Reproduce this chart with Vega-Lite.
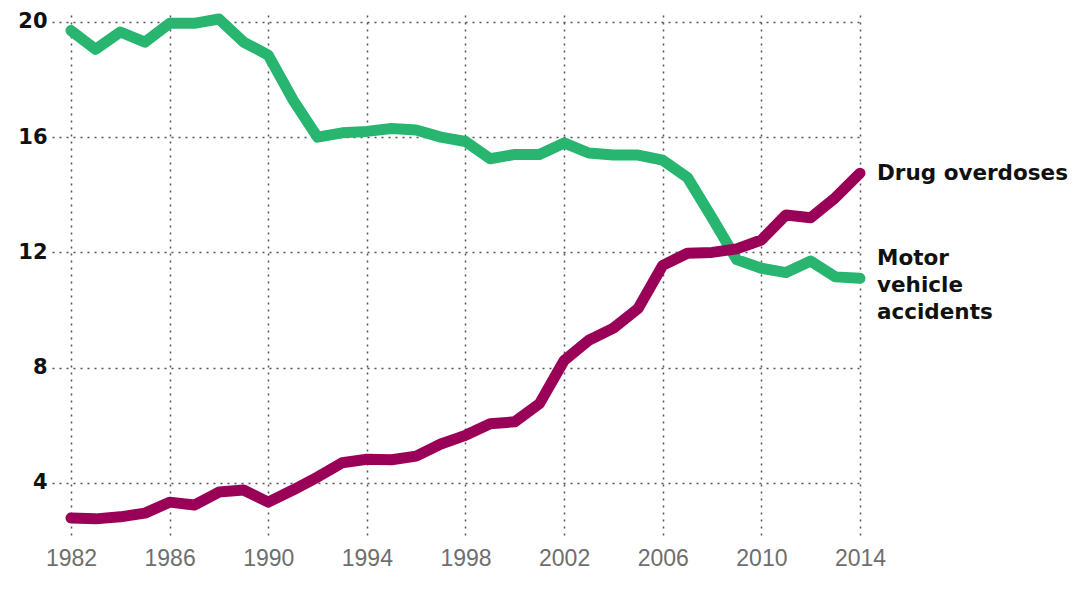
{
  "$schema": "https://vega.github.io/schema/vega-lite/v6.json",
  "autosize": "none",
  "width": 808,
  "height": 520,
  "padding": {"left": 52, "top": 15, "right": 216, "bottom": 70},
  "background": "white",
  "config": {"view": {"stroke": null}},
  "data": {"values": [
    {"year": 1982, "series": "Motor vehicle accidents", "value": 19.7},
    {"year": 1983, "series": "Motor vehicle accidents", "value": 19.05},
    {"year": 1984, "series": "Motor vehicle accidents", "value": 19.65},
    {"year": 1985, "series": "Motor vehicle accidents", "value": 19.3},
    {"year": 1986, "series": "Motor vehicle accidents", "value": 19.95},
    {"year": 1987, "series": "Motor vehicle accidents", "value": 19.95},
    {"year": 1988, "series": "Motor vehicle accidents", "value": 20.1},
    {"year": 1989, "series": "Motor vehicle accidents", "value": 19.3},
    {"year": 1990, "series": "Motor vehicle accidents", "value": 18.85},
    {"year": 1991, "series": "Motor vehicle accidents", "value": 17.3},
    {"year": 1992, "series": "Motor vehicle accidents", "value": 16.0},
    {"year": 1993, "series": "Motor vehicle accidents", "value": 16.15},
    {"year": 1994, "series": "Motor vehicle accidents", "value": 16.2},
    {"year": 1995, "series": "Motor vehicle accidents", "value": 16.3},
    {"year": 1996, "series": "Motor vehicle accidents", "value": 16.25},
    {"year": 1997, "series": "Motor vehicle accidents", "value": 16.0},
    {"year": 1998, "series": "Motor vehicle accidents", "value": 15.85},
    {"year": 1999, "series": "Motor vehicle accidents", "value": 15.25},
    {"year": 2000, "series": "Motor vehicle accidents", "value": 15.4},
    {"year": 2001, "series": "Motor vehicle accidents", "value": 15.4},
    {"year": 2002, "series": "Motor vehicle accidents", "value": 15.8},
    {"year": 2003, "series": "Motor vehicle accidents", "value": 15.45},
    {"year": 2004, "series": "Motor vehicle accidents", "value": 15.38},
    {"year": 2005, "series": "Motor vehicle accidents", "value": 15.38},
    {"year": 2006, "series": "Motor vehicle accidents", "value": 15.2},
    {"year": 2007, "series": "Motor vehicle accidents", "value": 14.6},
    {"year": 2008, "series": "Motor vehicle accidents", "value": 13.2},
    {"year": 2009, "series": "Motor vehicle accidents", "value": 11.75},
    {"year": 2010, "series": "Motor vehicle accidents", "value": 11.45},
    {"year": 2011, "series": "Motor vehicle accidents", "value": 11.3},
    {"year": 2012, "series": "Motor vehicle accidents", "value": 11.7},
    {"year": 2013, "series": "Motor vehicle accidents", "value": 11.15},
    {"year": 2014, "series": "Motor vehicle accidents", "value": 11.1},
    {"year": 1982, "series": "Drug overdoses", "value": 2.78},
    {"year": 1983, "series": "Drug overdoses", "value": 2.75},
    {"year": 1984, "series": "Drug overdoses", "value": 2.82},
    {"year": 1985, "series": "Drug overdoses", "value": 2.95},
    {"year": 1986, "series": "Drug overdoses", "value": 3.33},
    {"year": 1987, "series": "Drug overdoses", "value": 3.23},
    {"year": 1988, "series": "Drug overdoses", "value": 3.68},
    {"year": 1989, "series": "Drug overdoses", "value": 3.75},
    {"year": 1990, "series": "Drug overdoses", "value": 3.33},
    {"year": 1991, "series": "Drug overdoses", "value": 3.75},
    {"year": 1992, "series": "Drug overdoses", "value": 4.2},
    {"year": 1993, "series": "Drug overdoses", "value": 4.7},
    {"year": 1994, "series": "Drug overdoses", "value": 4.82},
    {"year": 1995, "series": "Drug overdoses", "value": 4.8},
    {"year": 1996, "series": "Drug overdoses", "value": 4.93},
    {"year": 1997, "series": "Drug overdoses", "value": 5.35},
    {"year": 1998, "series": "Drug overdoses", "value": 5.65},
    {"year": 1999, "series": "Drug overdoses", "value": 6.05},
    {"year": 2000, "series": "Drug overdoses", "value": 6.12},
    {"year": 2001, "series": "Drug overdoses", "value": 6.75},
    {"year": 2002, "series": "Drug overdoses", "value": 8.25},
    {"year": 2003, "series": "Drug overdoses", "value": 8.95},
    {"year": 2004, "series": "Drug overdoses", "value": 9.37},
    {"year": 2005, "series": "Drug overdoses", "value": 10.05},
    {"year": 2006, "series": "Drug overdoses", "value": 11.55},
    {"year": 2007, "series": "Drug overdoses", "value": 11.97},
    {"year": 2008, "series": "Drug overdoses", "value": 12.0},
    {"year": 2009, "series": "Drug overdoses", "value": 12.12},
    {"year": 2010, "series": "Drug overdoses", "value": 12.43},
    {"year": 2011, "series": "Drug overdoses", "value": 13.3},
    {"year": 2012, "series": "Drug overdoses", "value": 13.2},
    {"year": 2013, "series": "Drug overdoses", "value": 13.9},
    {"year": 2014, "series": "Drug overdoses", "value": 14.75}
  ]},
  "encoding": {
    "x": {
      "field": "year", "type": "quantitative",
      "scale": {"domain": [1981.23, 2014], "nice": false, "zero": false},
      "axis": {
        "title": null, "values": [1982, 1986, 1990, 1994, 1998, 2002, 2006, 2010, 2014],
        "format": "d", "domain": false, "ticks": false,
        "labelFont": "Liberation Sans", "labelFontSize": 23, "labelColor": "#6e6e6e",
        "labelPadding": 12, "labelFlush": false,
        "grid": true, "gridColor": "#555555", "gridDash": [2, 5], "gridWidth": 1.5
      }
    },
    "y": {
      "field": "value", "type": "quantitative",
      "scale": {"domain": [2.19, 20.24], "nice": false, "zero": false},
      "axis": {
        "title": null, "values": [4, 8, 12, 16, 20], "format": "d",
        "domain": false, "ticks": false,
        "labelFont": "DejaVu Sans", "labelFontWeight": "bold", "labelFontSize": 21,
        "labelColor": "#111111", "labelPadding": 5, "labelFlush": false,
        "grid": true, "gridColor": "#555555", "gridDash": [2, 5], "gridWidth": 1.5
      }
    },
    "color": {
      "field": "series", "type": "nominal",
      "scale": {"domain": ["Motor vehicle accidents", "Drug overdoses"], "range": ["#27b56f", "#9b0059"]},
      "legend": null
    }
  },
  "layer": [
    {
      "mark": {"type": "line", "strokeWidth": 11, "strokeCap": "round", "strokeJoin": "round"}
    },
    {
      "transform": [{"filter": "datum.year == 2014 && datum.series == 'Drug overdoses'"}],
      "mark": {"type": "text", "align": "left", "baseline": "middle", "dx": 17, "dy": 1,
               "font": "DejaVu Sans", "fontWeight": "bold", "fontSize": 21.5},
      "encoding": {"text": {"field": "series"}, "color": {"value": "#111111"}}
    },
    {
      "transform": [{"filter": "datum.year == 2014 && datum.series == 'Motor vehicle accidents'"}],
      "mark": {"type": "text", "align": "left", "baseline": "middle", "dx": 17, "dy": -19,
               "lineBreak": " ", "lineHeight": 27,
               "font": "DejaVu Sans", "fontWeight": "bold", "fontSize": 21.5},
      "encoding": {"text": {"field": "series"}, "color": {"value": "#111111"}}
    }
  ]
}
